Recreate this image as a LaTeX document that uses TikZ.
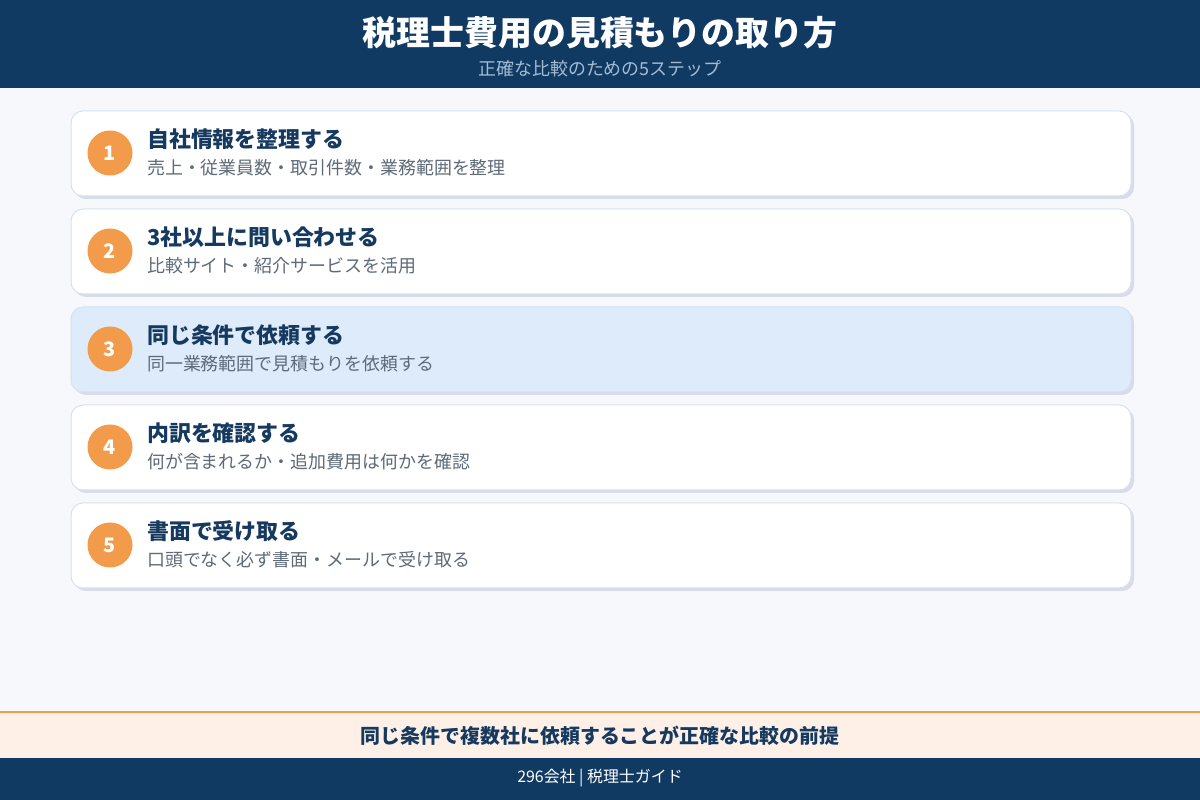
\documentclass[tikz,border=0pt]{standalone}
\usepackage{fontspec}
\setmainfont{Noto Sans CJK JP}
\definecolor{navy}{HTML}{113A63}
\definecolor{subblue}{HTML}{A3BCD6}
\definecolor{pagebg}{HTML}{F7F8FC}
\definecolor{cardline}{HTML}{D5E3F0}
\definecolor{cardshade}{HTML}{D9DCE8}
\definecolor{cardhi}{HTML}{DDEBFB}
\definecolor{dotorange}{HTML}{F29B4B}
\definecolor{headtext}{HTML}{163A5F}
\definecolor{bodytext}{HTML}{5E6A78}
\definecolor{notebg}{HTML}{FEF0E6}
\tikzset{
  card/.style={draw=cardline,line width=1bp,fill=white,rounded corners=12bp,minimum width=1060bp,minimum height=85bp,inner sep=0pt},
  cardshadow/.style={fill=cardshade,draw=none,rounded corners=12bp,minimum width=1060bp,minimum height=85bp,inner sep=0pt},
  numdot/.style={circle,fill=dotorange,draw=none,minimum size=45bp,inner sep=0pt,text=white,font=\fontsize{20}{20}\selectfont\bfseries},
  steptitle/.style={anchor=west,inner sep=0pt,text=headtext,font=\fontsize{22}{22}\selectfont\bfseries},
  steptext/.style={anchor=west,inner sep=0pt,text=bodytext,font=\fontsize{18}{18}\selectfont},
}
\begin{document}
\begin{tikzpicture}[line join=bevel,]
\useasboundingbox (0bp,0bp) rectangle (1200bp,800bp);
%%
\fill [pagebg] (0bp,0bp) rectangle (1200bp,800bp);
\fill [navy] (0bp,712bp) rectangle (1200bp,800bp);
\node (title) at (600bp,767bp) [text=white,font=\fontsize{34}{34}\selectfont\bfseries] {税理士費用の見積もりの取り方};
  \node (subtitle) at (600bp,731bp) [text=subblue,font=\fontsize{18}{18}\selectfont] {正確な比較のための5ステップ};
%
\node (shadow_1) at (604bp,643.5bp) [cardshadow] {};
  \node (card_1) at (601bp,646.5bp) [card] {};
  \node (dot_1) at (110bp,647bp) [numdot] {1};
  \node (head_1) at (147bp,661bp) [steptitle] {自社情報を整理する};
  \node (body_1) at (147bp,632bp) [steptext] {売上・従業員数・取引件数・業務範囲を整理};
%
\node (shadow_2) at (604bp,545.5bp) [cardshadow] {};
  \node (card_2) at (601bp,548.5bp) [card] {};
  \node (dot_2) at (110bp,549bp) [numdot] {2};
  \node (head_2) at (147bp,563bp) [steptitle] {3社以上に問い合わせる};
  \node (body_2) at (147bp,534bp) [steptext] {比較サイト・紹介サービスを活用};
%
\node (shadow_3) at (604bp,447.5bp) [cardshadow] {};
  \node (card_3) at (601bp,450.5bp) [card,fill=cardhi] {};
  \node (dot_3) at (110bp,451bp) [numdot] {3};
  \node (head_3) at (147bp,465bp) [steptitle] {同じ条件で依頼する};
  \node (body_3) at (147bp,436bp) [steptext] {同一業務範囲で見積もりを依頼する};
%
\node (shadow_4) at (604bp,349.5bp) [cardshadow] {};
  \node (card_4) at (601bp,352.5bp) [card] {};
  \node (dot_4) at (110bp,353bp) [numdot] {4};
  \node (head_4) at (147bp,367bp) [steptitle] {内訳を確認する};
  \node (body_4) at (147bp,338bp) [steptext] {何が含まれるか・追加費用は何かを確認};
%
\node (shadow_5) at (604bp,251.5bp) [cardshadow] {};
  \node (card_5) at (601bp,254.5bp) [card] {};
  \node (dot_5) at (110bp,255bp) [numdot] {5};
  \node (head_5) at (147bp,269bp) [steptitle] {書面で受け取る};
  \node (body_5) at (147bp,240bp) [steptext] {口頭でなく必ず書面・メールで受け取る};
%
\fill [notebg] (0bp,42bp) rectangle (1200bp,88bp);
\draw [dotorange,line width=2bp] (0bp,88bp) -- (1200bp,88bp);
\node (note) at (600bp,64bp) [text=headtext,font=\fontsize{20}{20}\selectfont\bfseries] {同じ条件で複数社に依頼することが正確な比較の前提};
\fill [navy] (0bp,0bp) rectangle (1200bp,42bp);
\node (credit) at (600bp,22bp) [text=white,font=\fontsize{16}{16}\selectfont] {296会社 | 税理士ガイド};
%
\end{tikzpicture}
\end{document}
